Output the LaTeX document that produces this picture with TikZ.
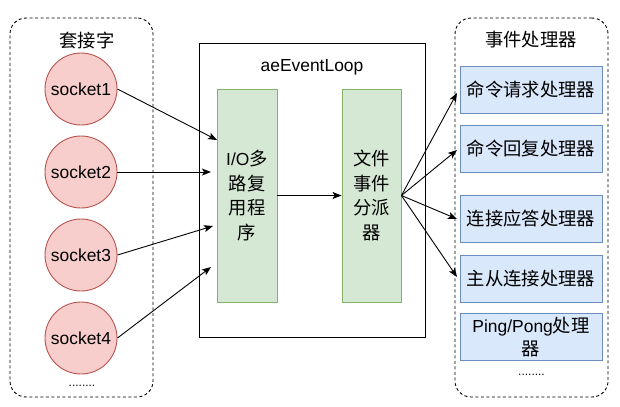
\documentclass[tikz,border=0pt]{standalone}
\usepackage{fontspec}
\setmainfont{Liberation Sans}
\newfontfamily\cjk[Scale=1.05]{Noto Sans CJK SC}
\usetikzlibrary{arrows.meta,calc}
\definecolor{redfill}{HTML}{F8CECC}
\definecolor{redline}{HTML}{B85450}
\definecolor{greenfill}{HTML}{D5E8D4}
\definecolor{greenline}{HTML}{82B366}
\definecolor{bluefill}{HTML}{DAE8FC}
\definecolor{blueline}{HTML}{6C8EBF}
\begin{document}
\begin{tikzpicture}[x=1bp,y=-1bp,
  font=\fontsize{17.5}{25}\selectfont,
  container/.style={draw, line width=0.9bp, dash pattern=on 3bp off 2.5bp, rounded corners=16bp, inner sep=0pt},
  sock/.style={circle, draw=redline, fill=redfill, line width=0.9bp, minimum size=72bp, inner sep=0pt},
  greenbox/.style={draw=greenline, fill=greenfill, line width=0.9bp, minimum width=60bp, minimum height=213bp, inner sep=0pt, align=center},
  handler/.style={draw=blueline, fill=bluefill, line width=0.9bp, minimum width=142bp, minimum height=47bp, inner sep=0pt, align=center, font=\fontsize{17.5}{23}\selectfont},
  arr/.style={line width=0.9bp, -{Stealth[length=9bp,width=7bp,inset=2bp]}},
  lbl/.style={inner sep=0pt}
]
\useasboundingbox (0,0) rectangle (620,406);
% containers
\node[container, minimum width=143bp, minimum height=379bp] (left) at (81.5,207.5) {};
\node[container, minimum width=153bp, minimum height=379bp] (right) at (531.5,207.5) {};
\node[lbl] (lefttitle) at (87,40) {\cjk 套接字};
\node[lbl] (righttitle) at (531,40) {\cjk 事件处理器};
\node[lbl] (leftdots) at (82,386) {\fontsize{12}{12}\selectfont ........};
\node[lbl] (rightdots) at (531.5,375) {\fontsize{12}{12}\selectfont ........};
% loop
\node[draw, line width=0.9bp, minimum width=226bp, minimum height=294bp, inner sep=0pt] (loop) at (312,190) {};
\node[lbl] (looplabel) at (312,67) {aeEventLoop};
\node[greenbox] (io) at (247,195.5) {I/O{\cjk 多}\\{\cjk 路复}\\{\cjk 用程}\\{\cjk 序}};
\node[greenbox, minimum width=59bp] (dis) at (371.5,195.5) {{\cjk 文件}\\{\cjk 事件}\\{\cjk 分派}\\{\cjk 器}};
% sockets
\node[sock] (s1) at (81,89) {socket1};
\node[sock] (s2) at (81,172) {socket2};
\node[sock] (s3) at (81,255) {socket3};
\node[sock] (s4) at (81,338) {socket4};
% handlers
\node[handler] (h1) at (531,89.5) {\cjk 命令请求处理器};
\node[handler] (h2) at (531,148.5) {\cjk 命令回复处理器};
\node[handler] (h3) at (531,219) {\cjk 连接应答处理器};
\node[handler] (h4) at (531,278.5) {\cjk 主从连接处理器};
\node[handler] (h5) at (531,337) {Ping/Pong{\cjk 处理}\\{\cjk 器}};
% arrow end points
\coordinate (e1) at (217,140);
\coordinate (e2) at (211,172);
\coordinate (e3) at (213,226);
\coordinate (e4) at (211,267);
\coordinate (f1) at (457,93);
\coordinate (f2) at (457,150);
\coordinate (f3) at (457,219);
\coordinate (f4) at (457,277);
\draw[arr] (s1.east) -- (e1);
\draw[arr] (s2.east) -- (e2);
\draw[arr] (s3.east) -- (e3);
\draw[arr] (s4.east) -- (e4);
\draw[arr] (io.east) -- (dis.west);
\draw[arr] (dis.east) -- (f1);
\draw[arr] (dis.east) -- (f2);
\draw[arr] (dis.east) -- (f3);
\draw[arr] (dis.east) -- (f4);
\end{tikzpicture}
\end{document}
